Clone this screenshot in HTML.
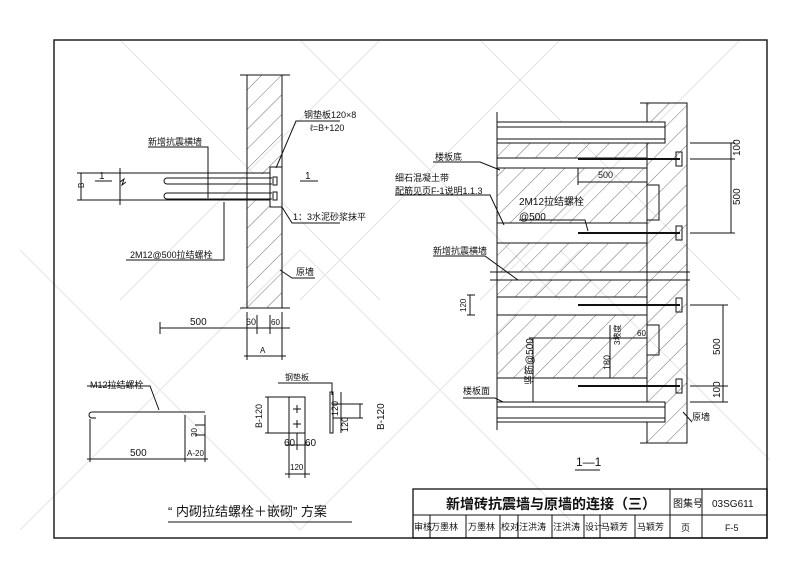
<!DOCTYPE html>
<html><head><meta charset="utf-8"><style>
html,body{margin:0;padding:0;background:#fff}
svg{display:block}
text{font-family:"Liberation Sans","Noto Sans CJK SC",sans-serif;fill:#111}
</style></head><body>
<svg width="800" height="567" viewBox="0 0 800 567" xmlns="http://www.w3.org/2000/svg">
<defs>
<pattern id="h" width="14" height="14" patternUnits="userSpaceOnUse" patternTransform="rotate(45)">
<line x1="0" y1="0" x2="0" y2="14" stroke="#333" stroke-width="0.7"/>
</pattern>
</defs>
<g stroke="#e4e4e4" stroke-width="1" fill="none">
<path d="M120 40 L380 300 M300 40 L560 300 M480 40 L740 300 M20 250 L300 530 M300 250 L580 530 M560 250 L770 460"/>
<path d="M380 40 L120 300 M560 40 L300 300 M740 40 L480 300 M300 250 L20 530 M580 250 L300 530"/>
</g>
<rect x="54" y="40" width="713" height="498" fill="none" stroke="#222" stroke-width="1.5"/>

<!-- LEFT PLAN -->
<rect x="247" y="75" width="35" height="233" fill="url(#h)" stroke="#111"/>
<rect x="248" y="174" width="22" height="25" fill="#fff"/>
<line x1="240" y1="75" x2="290" y2="75" stroke="#111"/>
<line x1="240" y1="308" x2="290" y2="308" stroke="#111"/>
<rect x="270" y="167" width="12" height="40" fill="#fff" stroke="#111"/>
<g stroke="#111" fill="none">
<line x1="123" y1="173" x2="270" y2="173"/>
<line x1="123" y1="200" x2="270" y2="200"/>
<line x1="120" y1="168" x2="120" y2="205"/>
<path d="M120 182 l4 -3 l-2 6 l4 -3"/>
<line x1="81" y1="173" x2="81" y2="200"/><line x1="77" y1="173" x2="123" y2="173"/><line x1="77" y1="200" x2="123" y2="200"/>
<path d="M167 178 H272 M167 184 H272 M167 178 a3 3 0 0 0 0 6"/>
<path d="M167 193 H272 M167 199 H272 M167 193 a3 3 0 0 0 0 6"/>
<rect x="273" y="177" width="4" height="8"/><rect x="273" y="192" width="4" height="8"/>
<line x1="95" y1="181" x2="112" y2="181"/>
<line x1="300" y1="181" x2="318" y2="181"/>
<path d="M148 147 H208 V198"/>
<path d="M126 260 H224 V202"/>
<path d="M340 121 H296 L276 168"/>
<path d="M340 223 H292 L282 207"/>
<path d="M315 278 H292 L280 270"/>
<line x1="160" y1="328" x2="290" y2="328"/>
<line x1="160" y1="322" x2="160" y2="334"/><line x1="247" y1="312" x2="247" y2="360"/><line x1="257" y1="315" x2="257" y2="334"/><line x1="270" y1="315" x2="270" y2="334"/><line x1="282" y1="312" x2="282" y2="360"/>
<line x1="244" y1="356" x2="286" y2="356"/>
</g>
<text x="148" y="145" font-size="9">新增抗震横墙</text>
<text x="84" y="188" font-size="8" transform="rotate(-90 84 188)">B</text>
<text x="99" y="179" font-size="10">1</text>
<text x="305" y="179" font-size="10">1</text>
<text x="130" y="258" font-size="9">2M12@500拉结螺栓</text>
<text x="304" y="118" font-size="9">钢垫板120×8</text>
<text x="310" y="131" font-size="9">ℓ=B+120</text>
<text x="293" y="220" font-size="9">1：3水泥砂浆抹平</text>
<text x="296" y="275" font-size="9">原墙</text>
<text x="190" y="325" font-size="10">500</text>
<text x="246" y="325" font-size="9">60</text>
<text x="271" y="325" font-size="8">60</text>
<text x="260" y="353" font-size="8">A</text>

<!-- BOTTOM LEFT -->
<g stroke="#111" fill="none">
<path d="M92 412 H205 M92 412 a3 3 0 0 0 0 6 h4"/>
<path d="M87 386 H150 L159 410"/>
<line x1="90" y1="419" x2="90" y2="462"/>
<line x1="185" y1="415" x2="185" y2="462"/>
<line x1="205" y1="415" x2="205" y2="462"/>
<line x1="87" y1="459" x2="208" y2="459"/>
<line x1="195" y1="425" x2="205" y2="425"/><line x1="195" y1="435" x2="205" y2="435"/>
<rect x="289" y="397" width="16" height="36"/>
<path d="M297 405 v8 M293 409 h8 M297 420 v8 M293 424 h8"/>
<line x1="265" y1="397" x2="289" y2="397"/><line x1="265" y1="433" x2="289" y2="433"/><line x1="268" y1="397" x2="268" y2="433"/>
<path d="M278 383 H332 V395"/>
<rect x="330" y="392" width="3" height="41"/>
<line x1="333" y1="404" x2="363" y2="404"/><line x1="333" y1="418" x2="363" y2="418"/><line x1="341" y1="392" x2="341" y2="433"/><line x1="360" y1="404" x2="360" y2="418"/>
<line x1="289" y1="433" x2="289" y2="478"/><line x1="305" y1="433" x2="305" y2="478"/><line x1="297" y1="433" x2="297" y2="450"/>
<line x1="285" y1="445" x2="310" y2="445"/><line x1="285" y1="474" x2="310" y2="474"/>
<line x1="168" y1="522" x2="352" y2="522"/>
</g>
<text x="90" y="388" font-size="9">M12拉结螺栓</text>
<text x="197" y="437" font-size="8" transform="rotate(-90 197 437)">30</text>
<text x="130" y="456" font-size="10">500</text>
<text x="187" y="456" font-size="8">A-20</text>
<text x="285" y="380" font-size="8">钢垫板</text>
<text x="262" y="428" font-size="9" transform="rotate(-90 262 428)">B-120</text>
<text x="338" y="416" font-size="9" transform="rotate(-90 338 416)">120</text>
<text x="348" y="432" font-size="9" transform="rotate(-90 348 432)">120</text>
<text x="384" y="430" font-size="10" transform="rotate(-90 384 430)">B-120</text>
<text x="284" y="446" font-size="10">60</text>
<text x="305" y="446" font-size="10">60</text>
<text x="290" y="470" font-size="8">120</text>
<text x="168" y="516" font-size="13">“ 内砌拉结螺栓＋嵌砌” 方案</text>

<!-- RIGHT SECTION -->
<rect x="647" y="103" width="40" height="340" fill="url(#h)" stroke="#111"/>
<g fill="url(#h)" stroke="#111">
<rect x="497" y="143" width="150" height="15"/>
<rect x="497" y="168" width="150" height="55"/>
<rect x="497" y="243" width="150" height="29"/>
<rect x="497" y="280" width="150" height="17"/>
<rect x="497" y="315" width="150" height="63"/>
<rect x="497" y="402" width="150" height="18"/>
</g>
<g stroke="#111" fill="none">
<rect x="497" y="122" width="168" height="21" fill="#fff"/>
<line x1="497" y1="127" x2="665" y2="127"/><line x1="497" y1="139" x2="665" y2="139"/>
<rect x="497" y="402" width="168" height="20" fill="#fff"/>
<line x1="497" y1="407" x2="665" y2="407"/><line x1="497" y1="418" x2="665" y2="418"/>
<line x1="497" y1="112" x2="497" y2="430"/>
<line x1="490" y1="272" x2="690" y2="272"/><line x1="490" y1="280" x2="690" y2="280"/>
<line x1="640" y1="103" x2="687" y2="103"/><line x1="640" y1="443" x2="687" y2="443"/>
<path d="M647 185 h12 v35 h-12"/><path d="M647 325 h12 v30 h-12"/>
</g>
<g stroke="#111" stroke-width="2">
<line x1="578" y1="159" x2="680" y2="159"/><line x1="578" y1="233" x2="680" y2="233"/>
<line x1="578" y1="305" x2="680" y2="305"/><line x1="578" y1="386" x2="680" y2="386"/>
</g>
<g stroke="#111" fill="none">
<rect x="676" y="152" width="6" height="14"/><rect x="676" y="226" width="6" height="14"/>
<rect x="676" y="298" width="6" height="14"/><rect x="676" y="379" width="6" height="14"/>
<line x1="690" y1="143" x2="735" y2="143"/><line x1="690" y1="159" x2="735" y2="159"/><line x1="690" y1="233" x2="735" y2="233"/>
<line x1="731" y1="143" x2="731" y2="233"/>
<line x1="690" y1="305" x2="728" y2="305"/><line x1="690" y1="386" x2="728" y2="386"/><line x1="690" y1="402" x2="728" y2="402"/>
<line x1="723" y1="305" x2="723" y2="402"/>
<line x1="578" y1="168" x2="578" y2="185"/><line x1="578" y1="182" x2="647" y2="182"/>
<path d="M433 162 H480 L500 170"/>
<path d="M395 195 H490 L504 225"/>
<path d="M519 220 H585 L588 231"/>
<path d="M433 256 H485 L518 280"/>
<line x1="470" y1="295" x2="470" y2="315"/><line x1="467" y1="295" x2="475" y2="295"/><line x1="467" y1="315" x2="475" y2="315"/>
<line x1="533" y1="338" x2="533" y2="402"/><line x1="529" y1="338" x2="647" y2="338"/>
<line x1="610" y1="325" x2="610" y2="378"/>
<path d="M463 398 H495 L503 402"/>
<path d="M692 422 L683 412"/>
<line x1="575" y1="470" x2="600" y2="470"/>
</g>
<text x="435" y="160" font-size="9">楼板底</text>
<text x="395" y="181" font-size="9">细石混凝土带</text>
<text x="395" y="194" font-size="9">配筋见页F-1说明1.1.3</text>
<text x="598" y="178" font-size="9">500</text>
<text x="519" y="205" font-size="10">2M12拉结螺栓</text>
<text x="519" y="220" font-size="10">@500</text>
<text x="433" y="254" font-size="9">新增抗震横墙</text>
<text x="466" y="312" font-size="8" transform="rotate(-90 466 312)">120</text>
<text x="533" y="385" font-size="10" transform="rotate(-90 533 385)">竖筋@500</text>
<text x="610" y="370" font-size="9" transform="rotate(-90 610 370)">180</text>
<text x="620" y="345" font-size="8" transform="rotate(-90 620 345)">3坡度</text>
<text x="637" y="336" font-size="8">60</text>
<text x="463" y="394" font-size="9">楼板面</text>
<text x="692" y="420" font-size="9">原墙</text>
<text x="740" y="156" font-size="10" transform="rotate(-90 740 156)">100</text>
<text x="740" y="205" font-size="10" transform="rotate(-90 740 205)">500</text>
<text x="720" y="355" font-size="10" transform="rotate(-90 720 355)">500</text>
<text x="720" y="398" font-size="10" transform="rotate(-90 720 398)">100</text>
<text x="576" y="466" font-size="12">1—1</text>

<!-- TITLE BLOCK -->
<g stroke="#111" fill="none">
<rect x="413" y="489" width="354" height="49" stroke-width="1.3"/>
<line x1="413" y1="515" x2="767" y2="515"/>
<line x1="670" y1="489" x2="670" y2="538"/><line x1="702" y1="489" x2="702" y2="538"/>
<line x1="430" y1="515" x2="430" y2="538"/><line x1="466" y1="515" x2="466" y2="538"/>
<line x1="500" y1="515" x2="500" y2="538"/><line x1="518" y1="515" x2="518" y2="538"/>
<line x1="552" y1="515" x2="552" y2="538"/><line x1="584" y1="515" x2="584" y2="538"/>
<line x1="600" y1="515" x2="600" y2="538"/><line x1="635" y1="515" x2="635" y2="538"/>
</g>
<text x="446" y="509" font-size="14" font-weight="bold">新增砖抗震墙与原墙的连接（三）</text>
<text x="673" y="507" font-size="10">图集号</text>
<text x="712" y="507" font-size="10">03SG611</text>
<g font-size="9">
<text x="414" y="530">审核</text><text x="431" y="530">万墨林</text><text x="468" y="530" fill="#555">万墨林</text>
<text x="501" y="530">校对</text><text x="519" y="530">汪洪涛</text><text x="553" y="530" fill="#555">汪洪涛</text>
<text x="585" y="530">设计</text><text x="601" y="530">马颖芳</text><text x="637" y="530" fill="#555">马颖芳</text>
<text x="681" y="531">页</text><text x="725" y="531">F-5</text>
</g>
</svg>
</body></html>
